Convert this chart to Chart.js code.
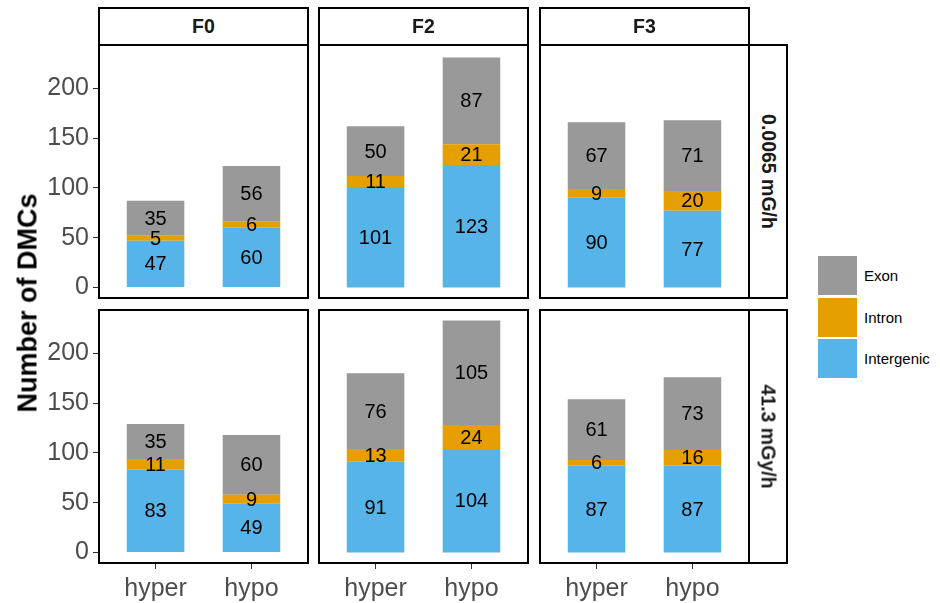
<!DOCTYPE html>
<html>
<head>
<meta charset="utf-8">
<script src="https://cdn.jsdelivr.net/npm/chart.js@4.4.1/dist/chart.umd.min.js"></script>
<style>
  body { margin: 0; background: #fff; font-family: "Liberation Sans", Arial, sans-serif; }
  #wrap { position: relative; width: 940px; height: 603px; overflow: hidden; }
  .pane { position: absolute; }
  .strip { position: absolute; box-sizing: border-box; border: 2px solid #000; background: #fff;
           display: flex; align-items: center; justify-content: center; font-weight: bold; font-size: 19.5px; color: #1a1a1a; }
  .strip.side span { transform: rotate(90deg); white-space: nowrap; display: block; }
  #ytitle { position: absolute; left: 28px; top: 303px; transform: translate(-50%, -50%) rotate(-90deg);
            font-weight: bold; font-size: 27px; white-space: nowrap; color: #000; }
  .key { position: absolute; width: 39px; height: 39px; }
  .klab { position: absolute; font-size: 15px; color: #000; line-height: 18px; }
</style>
</head>
<body>
<div id="wrap"></div>
<script>
const generations = ['F0', 'F2', 'F3'];
const doses = ['0.0065 mG/h', '41.3 mGy/h'];
const directions = ['hyper', 'hypo'];
const regions = ['Exon', 'Intron', 'Intergenic'];
const regionColors = ['#999999', '#E69F00', '#56B4E9'];

// values per dose row, per generation: [hyper, hypo]
const intergenic = [
  [[47, 60], [101, 123], [90, 77]],
  [[83, 49], [91, 104], [87, 87]]
];
const intron = [
  [[5, 6], [11, 21], [9, 20]],
  [[11, 9], [13, 24], [6, 16]]
];
const exon = [
  [[35, 56], [50, 87], [67, 71]],
  [[35, 60], [76, 105], [61, 73]]
];
const yTicks = [0, 50, 100, 150, 200];

// layout
const colLeft = [98, 318, 539];
const panelW = 211;
const rowTop = [44, 308.5];
const panelH = 255;
const yAxisW = 98;
const xAxisH = 603 - (rowTop[1] + panelH);
const FONT = '"Liberation Sans", Arial, sans-serif';

let maxTotal = 0;
for (let r = 0; r < 2; r++) for (let c = 0; c < 3; c++) for (let k = 0; k < 2; k++) {
  maxTotal = Math.max(maxTotal, intergenic[r][c][k] + intron[r][c][k] + exon[r][c][k]);
}
const yMin = -maxTotal * 0.05, yMax = maxTotal * 1.05;

const wrap = document.getElementById('wrap');

const frame = {
  id: 'frame',
  afterDraw(chart) {
    const a = chart.chartArea, ctx = chart.ctx;
    ctx.save();
    ctx.strokeStyle = '#000';
    ctx.lineWidth = 2;
    ctx.strokeRect(a.left + 1, a.top + 1, a.right - a.left - 2, a.bottom - a.top - 2);
    ctx.restore();
  }
};

const barLabels = {
  id: 'barLabels',
  afterDatasetsDraw(chart) {
    const ctx = chart.ctx;
    ctx.save();
    ctx.font = '20px ' + FONT;
    ctx.fillStyle = '#000';
    ctx.textAlign = 'center';
    ctx.textBaseline = 'middle';
    chart.data.datasets.forEach((ds, i) => {
      chart.getDatasetMeta(i).data.forEach((bar, j) => {
        const p = bar.getProps(['x', 'y', 'base'], true);
        ctx.fillText(String(ds.data[j].y), p.x, (p.y + p.base) / 2 + 1);
      });
    });
    ctx.restore();
  }
};

function makePanel(r, c) {
  const showY = c === 0, showX = r === 1;
  const div = document.createElement('div');
  div.className = 'pane';
  const left = showY ? 0 : colLeft[c];
  const w = showY ? colLeft[0] + panelW : panelW;
  const h = showX ? panelH + xAxisH : panelH;
  div.style.left = left + 'px';
  div.style.top = rowTop[r] + 'px';
  div.style.width = w + 'px';
  div.style.height = h + 'px';
  const cv = document.createElement('canvas');
  div.appendChild(cv);
  wrap.appendChild(div);

  const series = [intergenic, intron, exon];
  const order = [2, 1, 0]; // stack from bottom: Intergenic, Intron, Exon
  const datasets = order.map((ri, s) => ({
    label: regions[ri],
    stack: 'all',
    data: directions.map((d, k) => ({ x: k + 1, y: series[s][r][c][k] })),
    backgroundColor: regionColors[ri],
    borderWidth: 0,
    categoryPercentage: 1,
    barPercentage: 0.6
  }));

  new Chart(cv, {
    type: 'bar',
    data: { datasets },
    options: {
      responsive: true,
      maintainAspectRatio: false,
      animation: false,
      layout: { padding: 0 },
      plugins: { legend: { display: false }, tooltip: { enabled: false } },
      scales: {
        x: {
          type: 'linear',
          offset: false,
          min: 0.4, max: 2.6,
          display: showX,
          afterBuildTicks: s => { s.ticks = directions.map((d, k) => ({ value: k + 1 })); },
          afterFit: s => { if (showX) s.height = xAxisH; s.paddingLeft = 0; s.paddingRight = 0; },
          ticks: {
            callback: v => directions[v - 1],
            color: '#4D4D4D',
            font: { size: 25, family: FONT },
            padding: 5,
            maxRotation: 0,
            autoSkip: false
          },
          grid: { offset: false, drawOnChartArea: false, tickLength: 5, color: '#333', lineWidth: 1 },
          border: { display: false }
        },
        y: {
          min: yMin, max: yMax,
          display: showY,
          afterBuildTicks: s => { s.ticks = yTicks.map(v => ({ value: v })); },
          afterFit: s => { if (showY) s.width = yAxisW; s.paddingTop = 0; s.paddingBottom = 0; },
          ticks: {
            color: '#4D4D4D',
            font: { size: 25, family: FONT },
            padding: 4
          },
          grid: { drawOnChartArea: false, tickLength: 5, color: '#333', lineWidth: 1 },
          border: { display: false }
        }
      }
    },
    plugins: [barLabels, frame]
  });
}

for (let r = 0; r < 2; r++) for (let c = 0; c < 3; c++) makePanel(r, c);

// top strips
generations.forEach((g, c) => {
  const s = document.createElement('div');
  s.className = 'strip';
  s.style.left = colLeft[c] + 'px';
  s.style.top = '7px';
  s.style.width = panelW + 'px';
  s.style.height = (rowTop[0] - 7 + 2) + 'px';
  s.textContent = g;
  wrap.appendChild(s);
});
// side strips
doses.forEach((d, r) => {
  const s = document.createElement('div');
  s.className = 'strip side';
  s.style.left = (colLeft[2] + panelW - 2) + 'px';
  s.style.top = rowTop[r] + 'px';
  s.style.width = '40px';
  s.style.height = panelH + 'px';
  const sp = document.createElement('span');
  sp.textContent = d;
  s.appendChild(sp);
  wrap.appendChild(s);
});

const yt = document.createElement('div');
yt.id = 'ytitle';
yt.textContent = 'Number of DMCs';
wrap.appendChild(yt);

// legend
regions.forEach((name, i) => {
  const k = document.createElement('div');
  k.className = 'key';
  k.style.left = '818px';
  k.style.top = (256 + i * 41.5) + 'px';
  k.style.background = regionColors[i];
  wrap.appendChild(k);
  const l = document.createElement('div');
  l.className = 'klab';
  l.style.left = '864px';
  l.style.top = (256 + i * 41.5 + 11) + 'px';
  l.textContent = name;
  wrap.appendChild(l);
});
</script>
</body>
</html>
